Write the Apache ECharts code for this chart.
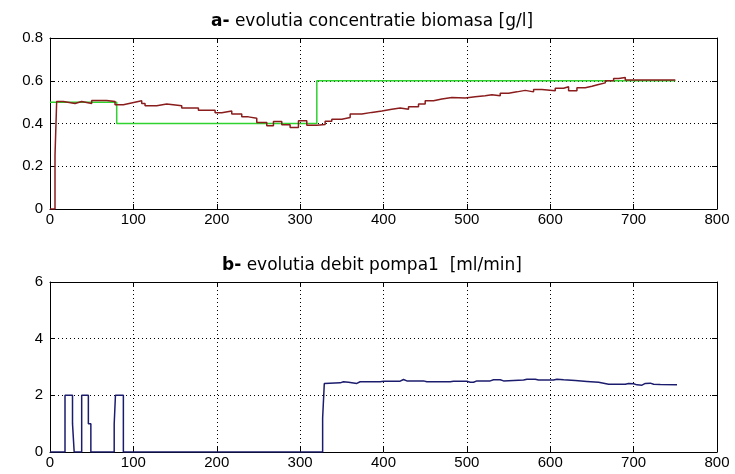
<!DOCTYPE html>
<html>
<head>
<meta charset="utf-8">
<script src="https://cdn.jsdelivr.net/npm/echarts@6/dist/echarts.min.js"></script>
<style>
  html, body { margin: 0; padding: 0; background: #fff; }
  #main { width: 735px; height: 474px; }
</style>
</head>
<body>
<div id="main"></div>
<script>
// a- biomasa: valoarea tine de la t pana la urmatorul t (treapta)
var biomasaT = [0, 6, 8, 16, 30, 38, 50, 68, 78, 88, 99, 110, 114, 128, 140, 158, 178, 198, 206, 218,
  230, 238, 248, 260, 268, 278, 288, 298, 308, 320, 330, 338, 350, 360, 374, 386, 398, 410, 420, 430,
  442, 450, 460, 470, 482, 498, 510, 522, 530, 540, 550, 560, 570, 580, 590, 606, 616, 622, 632, 642,
  650, 658, 666, 676, 682, 690, 750];
var biomasaV = [0, 0.25, 0.503, 0.494, 0.503, 0.494, 0.508, 0.503, 0.488, 0.497, 0.506, 0.494, 0.483, 0.491, 0.483, 0.473, 0.462, 0.45, 0.459, 0.444,
  0.431, 0.425, 0.405, 0.389, 0.409, 0.394, 0.381, 0.413, 0.392, 0.395, 0.41, 0.42, 0.428, 0.444, 0.452, 0.459, 0.467, 0.472, 0.467, 0.478,
  0.491, 0.506, 0.515, 0.522, 0.519, 0.525, 0.53, 0.534, 0.53, 0.542, 0.548, 0.555, 0.548, 0.559, 0.553, 0.565, 0.572, 0.553, 0.567, 0.574,
  0.582, 0.59, 0.6, 0.61, 0.615, 0.603, 0.6];

// referinta (verde)
var referintaT = [0, 80, 320, 750];
var referintaV = [0.5, 0.4, 0.6, 0.6];

// b- debit pompa1
var debitT = [0, 18, 18, 27, 27, 29, 29, 38, 38, 46, 46, 49, 49, 77, 77, 78.5, 78.5, 88, 88, 327,
  327, 329, 329, 348, 352, 358, 368, 372, 396, 400, 420, 424, 428, 448, 452, 480, 484, 500, 504, 508,
  512, 528, 532, 540, 544, 568, 572, 582, 586, 604, 608, 616, 630, 644, 658, 670, 690, 694, 700, 704,
  710, 714, 720, 724, 732, 752];
var debitV = [0, 0, 2, 2, 1, 1, 0, 0, 2, 2, 1, 1, 0, 0, 1, 1, 2, 2, 0, 0,
  1.2, 1.2, 2.42, 2.44, 2.48, 2.46, 2.42, 2.48, 2.48, 2.5, 2.5, 2.56, 2.51, 2.51, 2.48, 2.48, 2.5, 2.5, 2.46, 2.46,
  2.51, 2.51, 2.55, 2.55, 2.51, 2.54, 2.57, 2.57, 2.54, 2.54, 2.57, 2.55, 2.52, 2.49, 2.46, 2.39, 2.39, 2.42, 2.41, 2.37,
  2.36, 2.42, 2.43, 2.39, 2.38, 2.37];

var xTicks = [0, 800, 100];
var yTicksA = [0, 0.8, 0.2];
var yTicksB = [0, 6, 2];

function pairs(t, v) {
  var out = [];
  for (var i = 0; i < t.length; i++) out.push([t[i], v[i]]);
  return out;
}

var font = 'Liberation Sans, Arial, sans-serif';
var titleFont = 'DejaVu Sans, sans-serif';
var dotted = { color: '#000', width: 1, type: [1, 3] };

function axis(grid, ticks, pos, labels) {
  return {
    type: 'value', gridIndex: grid, position: pos,
    min: ticks[0], max: ticks[1], interval: ticks[2],
    axisLine: { show: true, onZero: false, lineStyle: { color: '#000', width: 1 } },
    axisTick: { show: true, inside: true, length: 5, lineStyle: { color: '#000' } },
    axisLabel: { show: labels, color: '#000', fontSize: 15, fontFamily: font, margin: pos === 'bottom' ? 3 : 7 },
    splitLine: { show: labels, lineStyle: dotted }
  };
}

function titlu(txt, top) {
  return {
    text: txt, left: 367, top: top, textAlign: 'center',
    textStyle: { fontSize: 17, fontWeight: 'normal', color: '#000', fontFamily: titleFont,
      rich: { b: { fontSize: 17, fontWeight: 'bold', fontFamily: titleFont, color: '#000' } } }
  };
}

var chart = echarts.init(document.getElementById('main'));
chart.setOption({
  animation: false,
  backgroundColor: '#fff',
  title: [
    titlu('{b|a-} evolutia concentratie biomasa [g/l]', 8),
    titlu('{b|b-} evolutia debit pompa1  [ml/min]', 252)
  ],
  grid: [
    { left: 50, top: 38, width: 667, height: 171 },
    { left: 50, top: 282, width: 667, height: 170 }
  ],
  xAxis: [
    axis(0, xTicks, 'bottom', true),
    axis(0, xTicks, 'top', false),
    axis(1, xTicks, 'bottom', true),
    axis(1, xTicks, 'top', false)
  ],
  yAxis: [
    axis(0, yTicksA, 'left', true),
    axis(0, yTicksA, 'right', false),
    axis(1, yTicksB, 'left', true),
    axis(1, yTicksB, 'right', false)
  ],
  series: [
    {
      name: 'referinta', type: 'line', step: 'end', xAxisIndex: 0, yAxisIndex: 0,
      showSymbol: false, data: pairs(referintaT, referintaV),
      lineStyle: { color: '#2fd22f', width: 1.5 }
    },
    {
      name: 'biomasa', type: 'line', step: 'end', xAxisIndex: 0, yAxisIndex: 0,
      showSymbol: false, data: pairs(biomasaT, biomasaV),
      lineStyle: { color: '#8a1c1c', width: 1.5 }
    },
    {
      name: 'debit', type: 'line', xAxisIndex: 2, yAxisIndex: 2,
      showSymbol: false, data: pairs(debitT, debitV),
      lineStyle: { color: '#1c1c6e', width: 1.5 }
    }
  ]
});
</script>
</body>
</html>
